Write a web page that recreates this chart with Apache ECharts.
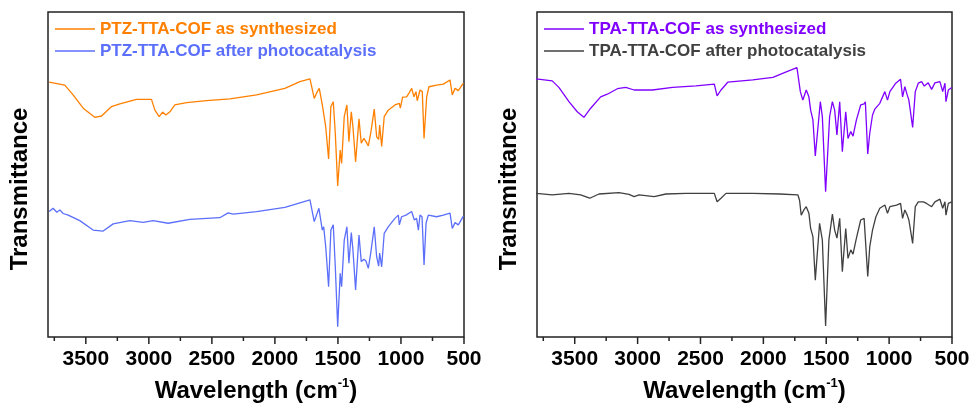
<!DOCTYPE html>
<html lang="en">
<head>
    <meta charset="utf-8">
    <title>FTIR</title>
    <script src="https://cdn.jsdelivr.net/npm/echarts@6/dist/echarts.min.js"></script>
    <style>
        body{margin:0;background:#fff;}
        #main{width:972px;height:406px;}
    </style>
</head>
<body>
<div id="main"></div>
<script type="text/javascript">
    // wavenumber (cm-1) / transmittance (a.u.)
    var ptzSynWn = [3791, 3667, 3601, 3521, 3429, 3375, 3296, 3230, 3098, 2979, 2952, 2918, 2891, 2865, 2833, 2794, 2701, 2542, 2357, 2145, 1921, 1802, 1722, 1714, 1688, 1664, 1648, 1624, 1613, 1597, 1574, 1556, 1537, 1521, 1502, 1482, 1471, 1450, 1429, 1413, 1394, 1381, 1360, 1333, 1315, 1294, 1278, 1259, 1240, 1212, 1193, 1177, 1169, 1153, 1133, 1101, 1048, 1013, 1005, 987, 955, 934, 915, 897, 881, 871, 849, 831, 817, 796, 778, 717, 664, 611, 593, 571, 545, 505];
    var ptzSynT = [78.4, 77.5, 74.5, 70.4, 67.6, 68.0, 70.9, 71.7, 73.1, 73.1, 69.8, 67.8, 69.2, 68.3, 69.3, 71.4, 72.1, 72.7, 73.3, 74.5, 76.5, 78.6, 79.4, 79.4, 73.4, 75.5, 76.5, 71.4, 71.9, 64.7, 54.8, 70.9, 72.4, 62.7, 46.5, 57.5, 53.4, 67.8, 71.4, 60.1, 69.3, 64.7, 53.9, 67.1, 59.6, 61.1, 60.1, 58.8, 62.7, 70.1, 61.6, 60.8, 65.2, 58.6, 67.8, 69.8, 71.4, 71.9, 70.4, 73.8, 73.9, 75.2, 76.5, 73.9, 75.5, 72.7, 76.0, 75.5, 61.1, 73.9, 77.0, 77.5, 77.8, 79.1, 74.5, 76.5, 75.8, 78.1];

    var ptzAftWn = [3791, 3760, 3730, 3706, 3680, 3640, 3548, 3442, 3362, 3283, 3151, 3045, 2966, 2847, 2675, 2437, 2371, 2331, 2145, 1921, 1775, 1722, 1688, 1670, 1651, 1624, 1613, 1597, 1574, 1556, 1537, 1521, 1502, 1482, 1471, 1450, 1429, 1413, 1394, 1381, 1360, 1333, 1315, 1294, 1278, 1259, 1240, 1212, 1193, 1177, 1169, 1153, 1133, 1101, 1048, 1021, 1013, 995, 960, 915, 894, 876, 862, 849, 833, 817, 801, 783, 717, 664, 611, 593, 571, 545, 505];
    var ptzAftT = [38.6, 39.6, 38.4, 39.1, 38.0, 37.5, 35.8, 32.9, 32.6, 34.8, 35.8, 35.3, 35.8, 35.0, 36.2, 36.7, 38.2, 37.8, 38.6, 39.9, 41.6, 42.2, 35.5, 37.5, 39.6, 32.9, 33.9, 27.8, 15.5, 32.9, 34.5, 21.6, 3.2, 19.6, 15.5, 29.8, 33.9, 22.7, 32.1, 26.8, 14.5, 31.4, 23.2, 23.9, 23.4, 21.1, 25.8, 33.9, 24.7, 21.8, 25.8, 21.6, 31.9, 33.9, 36.5, 37.5, 34.5, 37.0, 37.5, 38.6, 36.0, 36.5, 32.9, 37.5, 37.0, 22.2, 35.0, 37.5, 37.0, 37.5, 38.1, 33.4, 35.2, 34.5, 37.2];

    var tpaSynWn = [3807, 3679, 3626, 3546, 3480, 3427, 3373, 3294, 3241, 3161, 3094, 3028, 2882, 2722, 2536, 2390, 2368, 2337, 2283, 2084, 1924, 1818, 1733, 1725, 1706, 1686, 1659, 1638, 1624, 1606, 1587, 1579, 1547, 1531, 1505, 1473, 1451, 1433, 1415, 1393, 1372, 1345, 1327, 1305, 1287, 1260, 1226, 1199, 1189, 1170, 1154, 1132, 1114, 1074, 1034, 1013, 994, 947, 909, 893, 875, 856, 843, 813, 792, 768, 742, 720, 689, 662, 636, 596, 574, 556, 548, 529, 502];
    var tpaSynT = [79.4, 78.8, 76.8, 72.4, 69.3, 67.6, 70.4, 73.9, 74.7, 76.4, 76.8, 76.0, 76.0, 76.8, 77.3, 77.8, 74.2, 76.0, 78.4, 79.1, 79.9, 81.6, 82.9, 83.0, 75.5, 72.9, 76.0, 73.9, 69.8, 66.8, 55.7, 55.7, 72.4, 67.8, 44.7, 67.8, 72.4, 69.8, 62.2, 72.4, 57.0, 69.3, 61.1, 63.2, 61.8, 66.8, 71.4, 71.7, 72.4, 56.3, 62.7, 68.3, 70.1, 71.9, 75.5, 72.9, 75.5, 78.1, 79.3, 73.9, 77.0, 74.5, 72.9, 64.5, 75.5, 78.1, 78.6, 77.2, 78.2, 76.2, 78.2, 78.6, 75.5, 78.1, 72.4, 76.0, 76.8];

    var tpaAftWn = [3807, 3679, 3546, 3453, 3381, 3307, 3148, 3068, 3028, 2988, 2868, 2775, 2616, 2390, 2368, 2337, 2297, 2084, 1872, 1725, 1712, 1699, 1678, 1659, 1638, 1624, 1606, 1587, 1579, 1553, 1531, 1505, 1479, 1451, 1433, 1415, 1393, 1372, 1345, 1327, 1305, 1287, 1260, 1226, 1199, 1189, 1170, 1154, 1132, 1105, 1074, 1034, 1013, 994, 941, 909, 893, 875, 856, 843, 813, 792, 768, 728, 702, 662, 636, 596, 574, 556, 548, 529, 502];
    var tpaAftT = [44.2, 43.7, 44.2, 43.7, 42.7, 44.0, 44.4, 43.9, 43.2, 43.7, 43.2, 44.0, 44.2, 44.2, 41.6, 42.7, 44.2, 44.2, 44.0, 43.7, 42.0, 37.5, 39.1, 40.1, 38.1, 33.4, 30.9, 17.5, 17.8, 35.0, 29.8, 3.4, 29.8, 37.8, 32.9, 30.4, 36.5, 20.1, 33.4, 24.2, 26.8, 25.5, 30.4, 36.0, 36.5, 36.0, 18.6, 27.8, 32.9, 37.0, 39.6, 40.6, 38.1, 40.1, 40.6, 41.1, 36.5, 39.1, 37.5, 36.0, 28.8, 40.1, 41.6, 41.6, 41.1, 40.1, 41.6, 42.4, 39.6, 41.6, 37.5, 41.1, 41.6];

    var majorTicks = [500, 1000, 1500, 2000, 2500, 3000, 3500];
    var minorTicks = [750, 1250, 1750, 2250, 2750, 3250, 3750];
    var names = ['PTZ-TTA-COF as synthesized', 'PTZ-TTA-COF after photocatalysis',
                 'TPA-TTA-COF as synthesized', 'TPA-TTA-COF after photocatalysis'];
    var colors = ['#ff8000', '#5b6ffa', '#8000ff', '#404040'];

    function pairs(wn, t) {
        return wn.map(function (w, i) { return [w, t[i]]; });
    }

    var font = "'Liberation Sans', Arial, sans-serif";
    var grids = [
        {left: 48, right: 508, top: 12, bottom: 69},
        {left: 537, right: 20, top: 12, bottom: 69}
    ];

    var xAxes = [], yAxes = [], legends = [];
    grids.forEach(function (g, k) {
        g.show = true;
        g.borderColor = '#222';
        g.borderWidth = 1.5;
        g.outerBoundsMode = 'none';
        xAxes.push({
            type: 'value', gridIndex: k, inverse: true, min: 500, max: 3800, interval: 500,
            axisLine: {show: false}, axisTick: {show: false},
            axisLabel: {show: true, margin: 12, fontFamily: font, fontWeight: 'bold', fontSize: 21,
                        color: '#000', showMaxLabel: false,
                        formatter: function (v) { return v > 3600 ? '' : String(v); }},
            splitLine: {show: false},
            name: '{a|Wavelength (cm}{s|-1}{a|)}',
            nameLocation: 'middle', nameGap: 40,
            nameTextStyle: {
                rich: {
                    a: {fontFamily: font, fontWeight: 'bold', fontSize: 24, color: '#000', lineHeight: 28},
                    s: {fontFamily: font, fontWeight: 'bold', fontSize: 13, color: '#000', verticalAlign: 'top', lineHeight: 14}
                }
            }
        });
        yAxes.push({
            type: 'value', gridIndex: k, min: 0, max: 100,
            axisLine: {show: false}, axisTick: {show: false}, axisLabel: {show: false},
            splitLine: {show: false},
            name: 'Transmittance', nameLocation: 'middle', nameGap: 16,
            nameTextStyle: {fontFamily: font, fontWeight: 'bold', fontSize: 24, color: '#000',
                            padding: [0, 29, 0, 0]}
        });
        legends.push({
            orient: 'vertical', left: g.left + 2, top: 15, itemWidth: 40, itemHeight: 1.5,
            itemGap: 4, icon: 'rect',
            data: [
                {name: names[k * 2], textStyle: {color: colors[k * 2]}},
                {name: names[k * 2 + 1], textStyle: {color: colors[k * 2 + 1]}}
            ],
            textStyle: {fontFamily: font, fontWeight: 'bold', fontSize: 17, lineHeight: 18}
        });
    });

    var sets = [[ptzSynWn, ptzSynT], [ptzAftWn, ptzAftT], [tpaSynWn, tpaSynT], [tpaAftWn, tpaAftT]];
    var series = sets.map(function (s, i) {
        var k = i < 2 ? 0 : 1;
        return {
            name: names[i], type: 'line', xAxisIndex: k, yAxisIndex: k,
            data: pairs(s[0], s[1]), symbol: 'none', showSymbol: false,
            lineStyle: {color: colors[i], width: 1.3}, itemStyle: {color: colors[i]}
        };
    });

    // outward ticks under the frame, placed through the x scale
    function tickSeries(k, values, len) {
        return {
            type: 'custom', xAxisIndex: k, yAxisIndex: k, clip: false, silent: true,
            data: values.map(function (v) { return [v, 0]; }),
            encode: {x: 0, y: 1},
            renderItem: function (params, api) {
                var p = api.coord([api.value(0), 0]);
                return {
                    type: 'line',
                    shape: {x1: p[0], y1: p[1], x2: p[0], y2: p[1] + len},
                    style: {stroke: '#222', lineWidth: 1.5}
                };
            }
        };
    }
    [0, 1].forEach(function (k) {
        series.push(tickSeries(k, majorTicks, 7));
        series.push(tickSeries(k, minorTicks, 4));
    });

    var myChart = echarts.init(document.getElementById('main'));
    myChart.setOption({
        animation: false,
        backgroundColor: '#fff',
        grid: grids,
        xAxis: xAxes,
        yAxis: yAxes,
        legend: legends,
        series: series
    });
</script>
</body>
</html>
